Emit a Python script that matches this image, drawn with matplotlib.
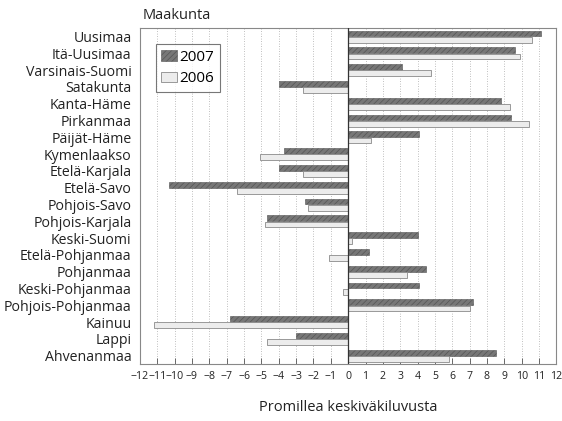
import matplotlib
import matplotlib.pyplot as plt
import numpy as np

matplotlib.use("agg")

regions = [
    "Uusimaa", "Itä-Uusimaa", "Varsinais-Suomi", "Satakunta", "Kanta-Häme",
    "Pirkanmaa", "Päijät-Häme", "Kymenlaakso", "Etelä-Karjala", "Etelä-Savo",
    "Pohjois-Savo", "Pohjois-Karjala", "Keski-Suomi", "Etelä-Pohjanmaa",
    "Pohjanmaa", "Keski-Pohjanmaa", "Pohjois-Pohjanmaa", "Kainuu", "Lappi",
    "Ahvenanmaa",
]
v2007 = [11.1, 9.6, 3.1, -4.0, 8.8, 9.4, 4.1, -3.7, -4.0, -10.3,
         -2.5, -4.7, 4.0, 1.2, 4.5, 4.1, 7.2, -6.8, -3.0, 8.5]
v2006 = [10.6, 9.9, 4.8, -2.6, 9.3, 10.4, 1.3, -5.1, -2.6, -6.4,
         -2.3, -4.8, 0.2, -1.1, 3.4, -0.3, 7.0, -11.2, -4.7, 5.8]
ticks = list(range(-12, 13))

plt.rcParams["font.family"] = ["Open Sans", "DejaVu Sans"]
plt.rcParams["hatch.color"] = "#333333"
plt.rcParams["hatch.linewidth"] = 0.5

fig = plt.figure(figsize=(5.62, 4.21), dpi=100)
ax = fig.add_axes([0.249, 0.135, 0.741, 0.798])

y = np.arange(len(regions))
h = 0.35
ax.barh(y - h / 2 - 0.01, v2007, height=h, color="#777777", hatch="//////",
        edgecolor="#555555", linewidth=0.4, label="2007", zorder=3)
ax.barh(y + h / 2 + 0.01, v2006, height=h, color="#ececec",
        edgecolor="#8a8a8a", linewidth=0.6, label="2006", zorder=3)

ax.set_ylim(len(regions) - 0.5, -0.5)
ax.set_xlim(-12, 12)
ax.axvline(0, color="#333333", linewidth=0.9, zorder=4)

ax.set_xticks(ticks)
ax.set_xticklabels([str(t).replace("-", "\u2212") for t in ticks], fontsize=7.6, color="#222222")
ax.set_yticks(y)
ax.set_yticklabels(regions, fontsize=10.2, color="#222222")
ax.tick_params(axis="y", length=0, pad=6)
ax.tick_params(axis="x", direction="in", length=4, width=0.6, color="#555555", pad=5)

ax.grid(axis="x", color="#aaaaaa", linestyle=(0, (1, 2)), linewidth=0.6, zorder=1)
for s in ax.spines.values():
    s.set_color("#888888")
    s.set_linewidth(0.8)

leg = ax.legend(loc="upper left", bbox_to_anchor=(0.02, 0.975), fontsize=11,
                frameon=True, fancybox=False, edgecolor="#555555",
                handlelength=1.0, handleheight=0.7, handletextpad=0.2,
                borderpad=0.35, labelspacing=0.45)
leg.get_frame().set_linewidth(0.8)

fig.text(0.253, 0.945, "Maakunta", fontsize=10.5, color="#222222", ha="left", va="bottom")
ax.set_xlabel("Promillea keskiväkiluvusta", fontsize=10.5, color="#222222", labelpad=13)

fig.savefig("out.png", dpi=100, facecolor="white")
